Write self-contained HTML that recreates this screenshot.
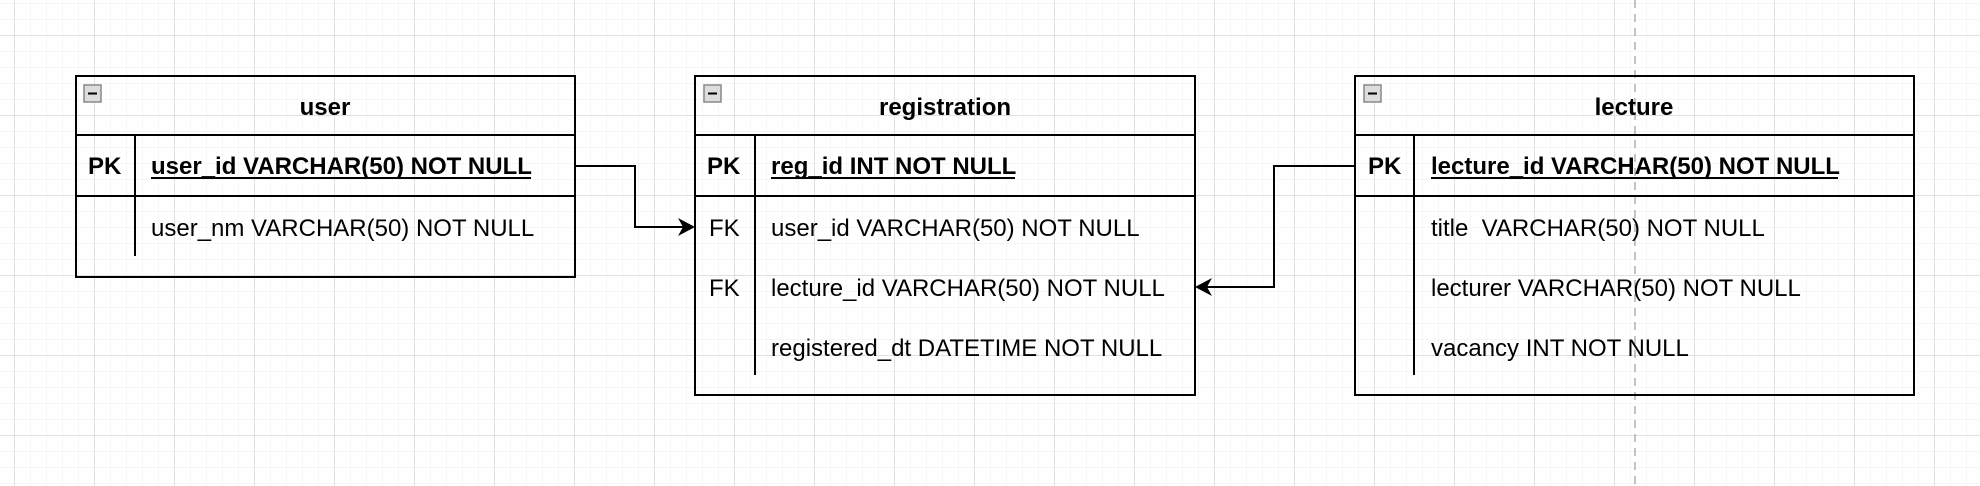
<!DOCTYPE html>
<html><head><meta charset="utf-8"><style>
html,body{margin:0;padding:0;background:#fff;}
svg{display:block;}
text{font-family:"Liberation Sans",Arial,sans-serif;font-size:24px;fill:#000;}
.b{font-weight:bold;}
</style></head><body>
<svg width="1980" height="486" viewBox="0 0 1980 486" xmlns="http://www.w3.org/2000/svg">
<defs>
<pattern id="minor" x="14" y="3" width="16" height="16" patternUnits="userSpaceOnUse">
<path d="M0 0H16M0 0V16" stroke="#ececec" stroke-width="1" fill="none"/>
</pattern>
<pattern id="major" x="14" y="35" width="80" height="80" patternUnits="userSpaceOnUse">
<path d="M0 0H80M0 0V80" stroke="#d6d6d6" stroke-width="1.5" fill="none"/>
</pattern>
</defs>
<rect width="1980" height="486" fill="#fff"/>
<rect width="1980" height="486" fill="url(#minor)"/>
<rect width="1980" height="486" fill="url(#major)"/>
<line x1="1635" y1="0" x2="1635" y2="486" stroke="#b0b0b0" stroke-width="1.5" stroke-dasharray="8,6"/>

<!-- user -->
<g>
<rect x="76" y="76" width="499" height="201" fill="none" stroke="#000" stroke-width="2"/>
<line x1="76" y1="135" x2="575" y2="135" stroke="#000" stroke-width="2"/>
<line x1="76" y1="196" x2="575" y2="196" stroke="#000" stroke-width="2"/>
<line x1="135" y1="135" x2="135" y2="256" stroke="#000" stroke-width="2"/>
<rect x="84" y="85" width="17" height="17" fill="#ddd" stroke="#888" stroke-width="1.5"/>
<line x1="88" y1="93.5" x2="97" y2="93.5" stroke="#000" stroke-width="2"/>
<text class="b" x="325" y="115" text-anchor="middle">user</text>
<text class="b" x="88" y="174">PK</text>
<text class="b" x="151" y="174">user_id VARCHAR(50) NOT NULL</text>
<line x1="151" y1="178" x2="531" y2="178" stroke="#000" stroke-width="2"/>
<text x="151" y="236">user_nm VARCHAR(50) NOT NULL</text>
</g>

<!-- registration -->
<g>
<rect x="695" y="76" width="500" height="319" fill="none" stroke="#000" stroke-width="2"/>
<line x1="695" y1="135" x2="1195" y2="135" stroke="#000" stroke-width="2"/>
<line x1="695" y1="196" x2="1195" y2="196" stroke="#000" stroke-width="2"/>
<line x1="755" y1="135" x2="755" y2="375" stroke="#000" stroke-width="2"/>
<rect x="704" y="85" width="17" height="17" fill="#ddd" stroke="#888" stroke-width="1.5"/>
<line x1="708" y1="93.5" x2="717" y2="93.5" stroke="#000" stroke-width="2"/>
<text class="b" x="945" y="115" text-anchor="middle">registration</text>
<text class="b" x="707" y="174">PK</text>
<text class="b" x="771" y="174">reg_id INT NOT NULL</text>
<line x1="771" y1="178" x2="1015" y2="178" stroke="#000" stroke-width="2"/>
<text x="709" y="236">FK</text>
<text x="771" y="236">user_id VARCHAR(50) NOT NULL</text>
<text x="709" y="296">FK</text>
<text x="771" y="296">lecture_id VARCHAR(50) NOT NULL</text>
<text x="771" y="356">registered_dt DATETIME NOT NULL</text>
</g>

<!-- lecture -->
<g>
<rect x="1355" y="76" width="559" height="319" fill="none" stroke="#000" stroke-width="2"/>
<line x1="1355" y1="135" x2="1914" y2="135" stroke="#000" stroke-width="2"/>
<line x1="1355" y1="196" x2="1914" y2="196" stroke="#000" stroke-width="2"/>
<line x1="1414" y1="135" x2="1414" y2="375" stroke="#000" stroke-width="2"/>
<rect x="1364" y="85" width="17" height="17" fill="#ddd" stroke="#888" stroke-width="1.5"/>
<line x1="1368" y1="93.5" x2="1377" y2="93.5" stroke="#000" stroke-width="2"/>
<text class="b" x="1634" y="115" text-anchor="middle">lecture</text>
<text class="b" x="1368" y="174">PK</text>
<text class="b" x="1431" y="174">lecture_id VARCHAR(50) NOT NULL</text>
<line x1="1431" y1="178" x2="1838" y2="178" stroke="#000" stroke-width="2"/>
<text x="1431" y="236">title&#160; VARCHAR(50) NOT NULL</text>
<text x="1431" y="296">lecturer VARCHAR(50) NOT NULL</text>
<text x="1431" y="356">vacancy INT NOT NULL</text>
</g>

<!-- connectors -->
<path d="M575 166H635V227H688" fill="none" stroke="#000" stroke-width="2"/>
<path d="M695 227L678 218L683 227L678 236Z" fill="#000"/>
<path d="M1355 166H1274V287H1202" fill="none" stroke="#000" stroke-width="2"/>
<path d="M1195 287L1212 278L1207 287L1212 296Z" fill="#000"/>
</svg>
</body></html>
